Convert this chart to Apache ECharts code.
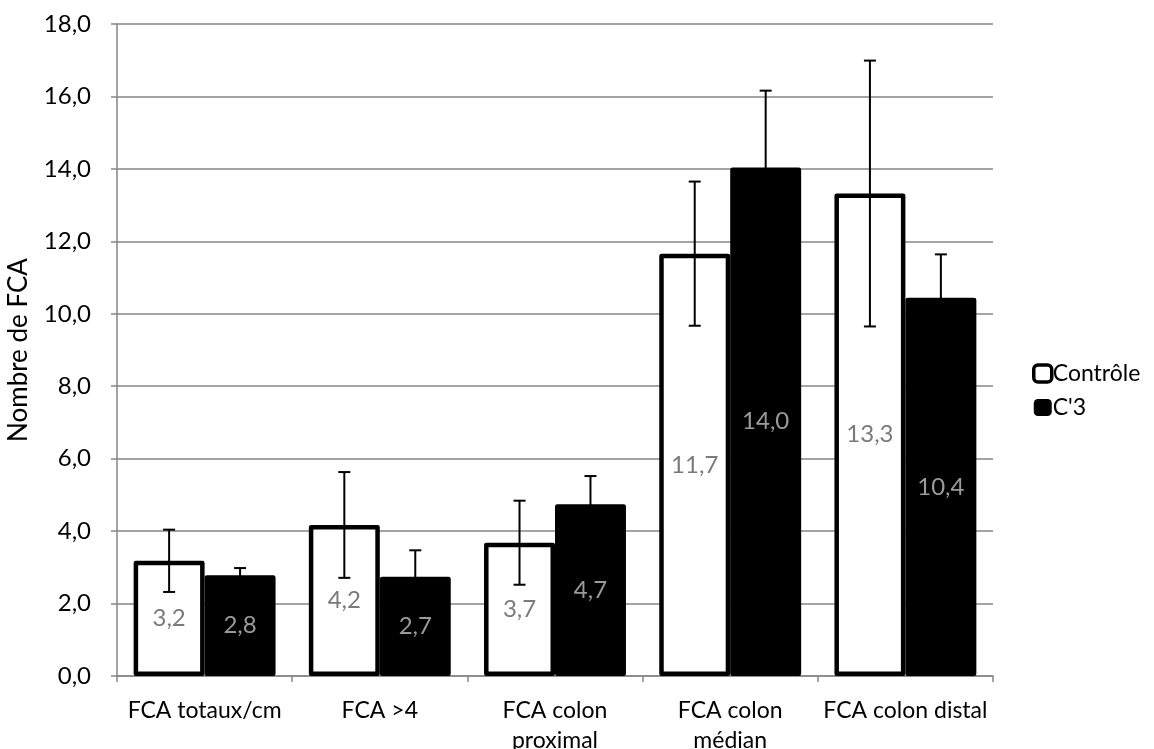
<!DOCTYPE html>
<html>
<head>
<meta charset="utf-8">
<script src="https://cdn.jsdelivr.net/npm/echarts@6/dist/echarts.min.js"></script>
<style>
html,body{margin:0;padding:0;background:#fff;}
#chart{width:1154px;height:749px;}
</style>
</head>
<body>
<div id="chart"></div>
<script>
const categories = ['FCA totaux/cm', 'FCA >4', 'FCA colon\nproximal', 'FCA colon\nmédian', 'FCA colon distal'];
const seriesNames = ['Contrôle', "C'3"];
const controle = [3.18, 4.17, 3.68, 11.66, 13.32];
const c3 = [2.78, 2.74, 4.74, 14.04, 10.44];
const controleErr = [0.86, 1.46, 1.16, 1.99, 3.67];
const c3Err = [0.2, 0.73, 0.78, 2.12, 1.2];
const yMin = 0, yMax = 18, yStep = 2;

const FONT = 'Lato';
const fmt = v => v.toFixed(1).replace('.', ',');
const CAT_FRAC = 0.81; // share of category used by both bars

function errSeries(name, vals, errs, side) {
  return {
    type: 'custom',
    name: name + ' err',
    z: 10,
    silent: true,
    data: vals.map((v, i) => [i, v, errs[i]]),
    encode: { x: 0, y: 1 },
    renderItem: function (params, api) {
      const i = api.value(0), v = api.value(1), e = api.value(2);
      const bw = api.size([1, 0])[0] * CAT_FRAC / 2;
      const c = api.coord([i, v]);
      const x = c[0] + side * bw / 2;
      const top = api.coord([i, v + e])[1];
      const bot = api.coord([i, v - e])[1];
      const cap = 6;
      const st = { stroke: '#000', lineWidth: 2 };
      return {
        type: 'group',
        children: [
          { type: 'line', shape: { x1: x, y1: top, x2: x, y2: bot }, style: st },
          { type: 'line', shape: { x1: x - cap, y1: top, x2: x + cap, y2: top }, style: st },
          { type: 'line', shape: { x1: x - cap, y1: bot, x2: x + cap, y2: bot }, style: st }
        ]
      };
    }
  };
}

const chart = echarts.init(document.getElementById('chart'), null, { renderer: 'canvas' });
chart.setOption({
  animation: false,
  backgroundColor: '#fff',
  textStyle: { fontFamily: FONT },
  grid: { left: 117, right: 161, top: 24, bottom: 73, containLabel: false, outerBoundsMode: 'none' },
  legend: {
    orient: 'vertical',
    left: 1027,
    top: 357,
    itemWidth: 18,
    itemHeight: 17,
    itemGap: 11,
    textStyle: { fontFamily: FONT, fontSize: 23, color: '#000', padding: [0, 0, 0, -4] },
    data: [
      { name: seriesNames[0], itemStyle: { color: '#fff', borderColor: '#000', borderWidth: 3.5 } },
      { name: seriesNames[1], itemStyle: { color: '#000', borderColor: '#000', borderWidth: 0 } }
    ]
  },
  xAxis: {
    type: 'category',
    data: categories,
    boundaryGap: true,
    axisLine: { lineStyle: { color: '#868686', width: 1.5 } },
    axisTick: { show: true, length: 6, lineStyle: { color: '#868686', width: 1.5 } },
    axisLabel: { color: '#000', fontSize: 23, fontFamily: FONT, margin: 20, lineHeight: 30, interval: 0 }
  },
  yAxis: {
    type: 'value',
    min: yMin, max: yMax, interval: yStep,
    name: 'Nombre de FCA',
    nameLocation: 'middle',
    nameMoveOverlap: false,
    nameGap: 85,
    nameRotate: 90,
    nameTextStyle: { color: '#000', fontSize: 26, fontFamily: FONT },
    axisLine: { show: true, lineStyle: { color: '#868686', width: 1.5 } },
    axisTick: { show: true, length: 6, lineStyle: { color: '#868686', width: 1.5 } },
    splitLine: { lineStyle: { color: '#868686', width: 1.5 } },
    axisLabel: { color: '#000', fontSize: 24, fontFamily: FONT, margin: 26, formatter: fmt }
  },
  series: [
    {
      type: 'bar',
      name: seriesNames[0],
      data: controle,
      barGap: '0%',
      barCategoryGap: '19%',
      itemStyle: { color: '#fff', borderColor: '#000', borderWidth: 4.5, borderJoin: 'round' },
      label: { show: true, position: 'inside', color: '#7a7a7a', fontSize: 24, fontFamily: FONT, formatter: p => fmt(p.value) }
    },
    {
      type: 'bar',
      name: seriesNames[1],
      data: c3,
      barGap: '0%',
      barCategoryGap: '19%',
      itemStyle: { color: '#000', borderColor: '#000', borderWidth: 4.5, borderJoin: 'round' },
      label: { show: true, position: 'inside', color: '#9a9a9a', fontSize: 24, fontFamily: FONT, formatter: p => fmt(p.value) }
    },
    errSeries(seriesNames[0], controle, controleErr, -1),
    errSeries(seriesNames[1], c3, c3Err, 1)
  ]
});
</script>
</body>
</html>
